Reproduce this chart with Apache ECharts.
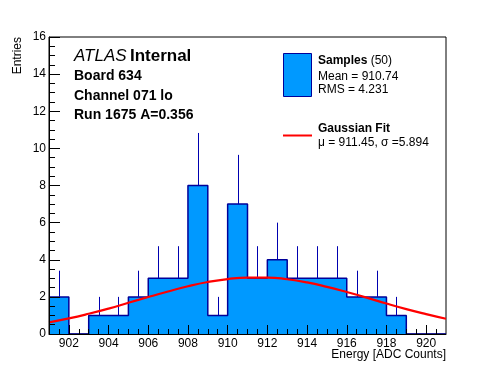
<!DOCTYPE html>
<html>
<head>
<meta charset="utf-8">
<script src="https://cdn.jsdelivr.net/npm/echarts@6/dist/echarts.min.js"></script>
<style>
html,body{margin:0;padding:0;background:#fff;}
#chart{width:496px;height:372px;}
</style>
</head>
<body>
<div id="chart"></div>
<script>
// ---- Data ----
const binLow = [901,902,903,904,905,906,907,908,909,910,911,912,913,914,915,916,917,918,919,920];
const counts = [2,0,1,1,2,3,3,8,1,7,3,4,3,3,3,2,2,1,0,0];
const errors = [1.41,0,1,1,1.41,1.73,1.73,2.83,1,2.65,1.73,2,1.73,1.73,1.73,1.41,1.41,1,0,0];
const binWidth = 1;
const fitX = [901,902,903,904,905,906,907,908,909,910,911,912,913,914,915,916,917,918,919,920,921];
const fitY = [0.63,0.84,1.09,1.37,1.68,1.99,2.29,2.57,2.80,2.96,3.04,3.04,2.95,2.78,2.54,2.26,1.96,1.64,1.34,1.07,0.82];
const xTickLabels = [902,904,906,908,910,912,914,916,918,920];
const yTickLabels = [0,2,4,6,8,10,12,14,16];
const xMin = 901, xMax = 921, yMin = 0, yMax = 16;

// ---- Build series ----
const stepData = binLow.map((x, i) => [x, counts[i]]);
stepData.push([binLow[binLow.length - 1] + binWidth, counts[counts.length - 1]]);
const errData = [];
binLow.forEach((x, i) => { if (counts[i] > 0) errData.push([x + binWidth / 2, counts[i], errors[i]]); });
const fitData = fitX.map((x, i) => [x, fitY[i]]);
const minorX = [];
for (let v = xMin + 0.5; v < xMax; v += 0.5) minorX.push(v);

const FONT = 'Liberation Sans, Arial, Helvetica, sans-serif';
const chart = echarts.init(document.getElementById('chart'), null, {renderer: 'canvas'});
chart.setOption({
  animation: false,
  backgroundColor: '#fff',
  grid: {left: 49, top: 37, right: 50, bottom: 38, show: true, borderColor: '#000', borderWidth: 1, backgroundColor: 'transparent'},
  xAxis: [{
    type: 'value', min: xMin, max: xMax, z: 10,
    axisLine: {show: true, lineStyle: {color: '#000', width: 1}},
    splitLine: {show: false},
    axisTick: {show: true, inside: true, length: 9, customValues: xTickLabels, lineStyle: {color: '#000'}},
    axisLabel: {show: true, customValues: xTickLabels, margin: 4, color: '#000', fontSize: 12, fontFamily: FONT}
  }, {
    type: 'value', min: xMin, max: xMax, position: 'bottom', z: 10,
    axisLine: {show: false},
    splitLine: {show: false},
    axisTick: {show: true, inside: true, length: 5, customValues: minorX, lineStyle: {color: '#000'}},
    axisLabel: {show: false}
  }],
  yAxis: {
    type: 'value', min: yMin, max: yMax, interval: 2, z: 10,
    axisLine: {show: true, lineStyle: {color: '#000', width: 1}},
    splitLine: {show: false},
    axisTick: {show: true, inside: true, length: 11, lineStyle: {color: '#000'}},
    minorTick: {show: true, splitNumber: 4, length: 6, lineStyle: {color: '#000'}},
    axisLabel: {margin: 3, color: '#000', fontSize: 12, fontFamily: FONT,
      formatter: v => yTickLabels.indexOf(v) >= 0 ? String(v) : ''}
  },
  series: [{
    type: 'line', name: 'Samples', data: stepData, step: 'end', showSymbol: false, z: 2,
    lineStyle: {color: '#000099', width: 1.5},
    areaStyle: {color: '#0099ff', opacity: 1}
  }, {
    type: 'custom', name: 'errors', data: errData, z: 3,
    encode: {x: 0, y: 1},
    renderItem: function (params, api) {
      const x = api.value(0), y = api.value(1), e = api.value(2);
      const p1 = api.coord([x, y]);
      const p2 = api.coord([x, y + e]);
      return {type: 'line', shape: {x1: Math.round(p1[0]) + 0.5, y1: p1[1], x2: Math.round(p2[0]) + 0.5, y2: p2[1]},
        style: {stroke: '#0000b0', lineWidth: 1}};
    }
  }, {
    type: 'line', name: 'Gaussian Fit', data: fitData, smooth: true, showSymbol: false, z: 4,
    lineStyle: {color: '#ff0000', width: 2.2}
  }],
  graphic: [
    {type: 'text', left: 74, top: 48, style: {
      text: '{i|ATLAS} {b|Internal}',
      rich: {i: {fontStyle: 'italic', fontSize: 17, fontFamily: FONT, fill: '#000'},
             b: {fontWeight: 'bold', fontSize: 17, fontFamily: FONT, fill: '#000'}}}},
    {type: 'text', x: 74, y: 76, style: {text: 'Board 634', fontWeight: 'bold', fontSize: 14, fontFamily: FONT, fill: '#000', verticalAlign: 'middle'}},
    {type: 'text', x: 74, y: 96, style: {text: 'Channel 071 lo', fontWeight: 'bold', fontSize: 14, fontFamily: FONT, fill: '#000', verticalAlign: 'middle'}},
    {type: 'text', x: 74, y: 115, style: {text: 'Run 1675 A=0.356', fontWeight: 'bold', fontSize: 14, fontFamily: FONT, fill: '#000', verticalAlign: 'middle'}},
    // legend
    {type: 'rect', shape: {x: 283.5, y: 53.5, width: 28, height: 43}, style: {fill: '#0099ff', stroke: '#000099', lineWidth: 1}},
    {type: 'text', x: 318, y: 61, style: {
      text: '{b|Samples} {n|(50)}', verticalAlign: 'middle',
      rich: {b: {fontWeight: 'bold', fontSize: 12, fontFamily: FONT, fill: '#000'},
             n: {fontSize: 12, fontFamily: FONT, fill: '#000'}}}},
    {type: 'text', x: 318, y: 77, style: {text: 'Mean = 910.74', fontSize: 12, fontFamily: FONT, fill: '#000', verticalAlign: 'middle'}},
    {type: 'text', x: 318, y: 89.5, style: {text: 'RMS = 4.231', fontSize: 12, fontFamily: FONT, fill: '#000', verticalAlign: 'middle'}},
    {type: 'line', shape: {x1: 283, y1: 135.5, x2: 312, y2: 135.5}, style: {stroke: '#ff0000', lineWidth: 2}},
    {type: 'text', x: 318, y: 129, style: {text: 'Gaussian Fit', fontWeight: 'bold', fontSize: 12, fontFamily: FONT, fill: '#000', verticalAlign: 'middle'}},
    {type: 'text', x: 318, y: 142.5, style: {text: 'μ = 911.45, σ =5.894', fontSize: 12, fontFamily: FONT, fill: '#000', verticalAlign: 'middle'}},
    // axis titles
    {type: 'text', x: 18, y: 37, rotation: Math.PI / 2, style: {text: 'Entries', fontSize: 12, fontFamily: FONT, fill: '#000', align: 'right', verticalAlign: 'middle'}},
    {type: 'text', x: 446, y: 355, style: {text: 'Energy [ADC Counts]', fontSize: 12, fontFamily: FONT, fill: '#000', align: 'right', verticalAlign: 'middle'}}
  ]
});
</script>
</body>
</html>
